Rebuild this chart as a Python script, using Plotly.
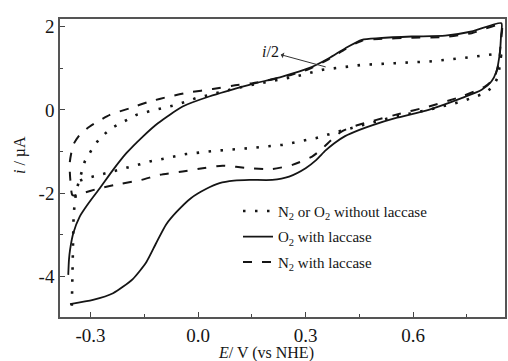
import plotly.graph_objects as go

# ---- data (E in V vs NHE, i in uA) ----
solid_E = [-0.362, -0.360, -0.357, -0.348, -0.330, -0.307, -0.274, -0.237, -0.200, -0.154,
           -0.112, -0.043, 0.031, 0.143, 0.235, 0.309, 0.365, 0.411, 0.457, 0.504,
           0.596, 0.689, 0.763, 0.846, 0.845, 0.842, 0.832, 0.818, 0.791, 0.735,
           0.643, 0.550, 0.485, 0.450, 0.410, 0.380, 0.355, 0.330, 0.300, 0.254,
           0.207, 0.143, 0.100, 0.060, 0.022, -0.020, -0.060, -0.089, -0.117, -0.144,
           -0.182, -0.237, -0.293, -0.357]
solid_i = [-3.96, -3.60, -3.36, -2.96, -2.56, -2.26, -1.88, -1.44, -1.04, -0.64,
           -0.32, 0.08, 0.32, 0.60, 0.80, 1.00, 1.24, 1.48, 1.68, 1.72,
           1.76, 1.78, 1.88, 2.08, 1.80, 1.40, 0.92, 0.68, 0.48, 0.28,
           0.00, -0.20, -0.37, -0.48, -0.63, -0.80, -0.98, -1.20, -1.40, -1.60,
           -1.68, -1.68, -1.70, -1.76, -1.90, -2.12, -2.45, -2.75, -3.20, -3.65,
           -4.06, -4.40, -4.56, -4.66]

dash_E = [-0.350, -0.356, -0.358, -0.348, -0.330, -0.302, -0.246, -0.190, -0.135, -0.080,
          -0.024, 0.041, 0.096, 0.152, 0.235, 0.309, 0.365, 0.411, 0.457, 0.504,
          0.596, 0.689, 0.763, 0.846, 0.844, 0.838, 0.825, 0.800, 0.735, 0.643,
          0.550, 0.485, 0.440, 0.400, 0.372, 0.345, 0.318, 0.263, 0.207, 0.143,
          0.068, 0.013, -0.043, -0.107, -0.158, -0.219, -0.274, -0.330, -0.350]
dash_i = [-2.05, -1.70, -1.28, -0.84, -0.60, -0.40, -0.12, 0.04, 0.20, 0.32,
          0.42, 0.50, 0.58, 0.64, 0.78, 0.98, 1.22, 1.46, 1.66, 1.70,
          1.73, 1.75, 1.84, 2.04, 1.60, 1.10, 0.75, 0.56, 0.32, 0.08,
          -0.12, -0.27, -0.38, -0.52, -0.72, -0.94, -1.12, -1.32, -1.42, -1.40,
          -1.34, -1.40, -1.48, -1.56, -1.68, -1.78, -1.88, -2.02, -2.05]

dot_E = [-0.352, -0.350, -0.347, -0.340, -0.325, -0.316, -0.297, -0.274, -0.242, -0.209,
         -0.172, -0.135, -0.061, -0.006, 0.106, 0.198, 0.272, 0.346, 0.383, 0.457,
         0.550, 0.643, 0.735, 0.828, 0.845, 0.842, 0.837, 0.823, 0.800, 0.735,
         0.643, 0.550, 0.457, 0.400, 0.328, 0.235, 0.143, 0.050, -0.033, -0.098,
         -0.135, -0.168, -0.205, -0.274, -0.311, -0.344]
dot_i = [-4.70, -3.50, -2.50, -1.95, -1.48, -1.24, -0.96, -0.68, -0.44, -0.28,
         -0.12, -0.03, 0.12, 0.28, 0.52, 0.68, 0.80, 0.96, 1.00, 1.08,
         1.12, 1.16, 1.24, 1.34, 1.30, 1.08, 0.80, 0.56, 0.40, 0.20,
         0.00, -0.16, -0.36, -0.50, -0.68, -0.84, -0.92, -0.98, -1.06, -1.18,
         -1.24, -1.32, -1.40, -1.56, -1.64, -1.74]

x_tickvals = [-0.3, 0.0, 0.3, 0.6]
x_ticktext = ["-0.3", "0.0", "0.3", "0.6"]
y_tickvals = [-4, -2, 0, 2]
y_ticktext = ["-4", "-2", "0", "2"]

FONT = "Liberation Serif, Times New Roman, serif"
INK = "#151515"

fig = go.Figure()
fig.add_trace(go.Scatter(x=dot_E, y=dot_i, mode="lines", name="N<sub>2</sub> or O<sub>2</sub> without laccase",
                         legendgroup="a", line=dict(color=INK, width=2.6, dash="2.5px,9.5px")))
fig.add_trace(go.Scatter(x=solid_E, y=solid_i, mode="lines", name="O<sub>2</sub> with laccase",
                         legendgroup="b", line=dict(color=INK, width=1.8, shape="spline", smoothing=0.6)))
fig.add_trace(go.Scatter(x=dash_E, y=dash_i, mode="lines", name="N<sub>2</sub> with laccase",
                         legendgroup="c", line=dict(color=INK, width=2.0, dash="9px,10px", shape="spline", smoothing=0.6)))

axis_common = dict(showline=True, linecolor="#555", linewidth=1.5, mirror=True,
                   ticks="inside", ticklen=5, tickwidth=1, tickcolor="#444",
                   showgrid=False, zeroline=False,
                   tickfont=dict(family=FONT, size=19, color=INK))

fig.update_xaxes(range=[-0.385, 0.856], tickvals=x_tickvals, ticktext=x_ticktext,
                 minor=dict(dtick=0.15, tick0=-0.15, ticks="inside", ticklen=3, tickcolor="#444"),
                 **axis_common)
fig.update_yaxes(range=[-4.97, 2.18], tickvals=y_tickvals, ticktext=y_ticktext,
                 minor=dict(dtick=1, tick0=-5, ticks="inside", ticklen=3, tickcolor="#444"),
                 **axis_common)

fig.add_annotation(xref="paper", yref="paper", x=-0.0895, y=0.544, xanchor="center", yanchor="middle",
                   text="<i>i</i> / µA", textangle=-90, showarrow=False,
                   font=dict(family=FONT, size=16, color=INK))
fig.add_annotation(xref="paper", yref="paper", x=0.463, y=-0.121, xanchor="center", yanchor="middle",
                   text="<i>E</i>/ V (vs NHE)", showarrow=False,
                   font=dict(family=FONT, size=16, color=INK))
fig.add_annotation(x=0.356, y=1.03, ax=-55, ay=-15, text="<i>i</i>/2", showarrow=True,
                   arrowside="start", arrowhead=2, arrowsize=1, arrowwidth=1, arrowcolor="#333",
                   font=dict(family=FONT, size=16, color=INK))

fig.update_layout(
    width=508, height=361,
    margin=dict(l=60, r=1, t=19, b=44),
    paper_bgcolor="white", plot_bgcolor="white",
    showlegend=True,
    legend=dict(x=0.4, y=0.41, xanchor="left", yanchor="top", bgcolor="rgba(0,0,0,0)",
                font=dict(family=FONT, size=15, color=INK), traceorder="grouped",
                tracegroupgap=3),
)

fig.write_html("out.html")
